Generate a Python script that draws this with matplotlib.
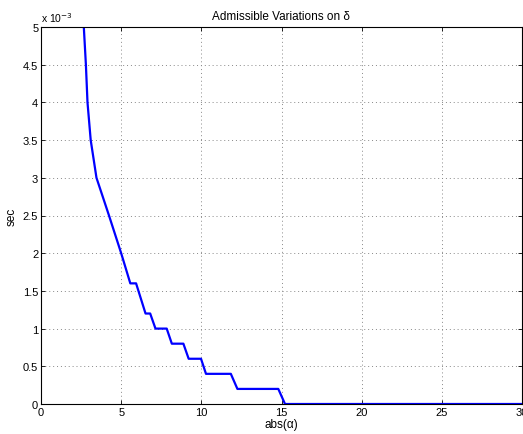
import matplotlib
matplotlib.use("Agg")
import matplotlib.pyplot as plt
from matplotlib.ticker import MultipleLocator

# abs(alpha) values and admissible time variations (units of 1e-3 s)
alpha = [2.67, 2.80, 2.90, 3.10, 3.46, 4.24, 5.00, 5.57, 5.93, 6.52, 6.81, 7.14, 7.84,
         8.16, 8.88, 9.21, 9.98, 10.29, 11.84, 12.25, 14.80, 15.22, 30.0]
sec_ms = [5.0, 4.5, 4.0, 3.5, 3.0, 2.5, 2.0, 1.6, 1.6, 1.2, 1.2, 1.0, 1.0,
          0.8, 0.8, 0.6, 0.6, 0.4, 0.4, 0.2, 0.2, 0.0, 0.0]
xticks = [0, 5, 10, 15, 20, 25, 30]
yticks = [0, 0.5, 1, 1.5, 2, 2.5, 3, 3.5, 4, 4.5, 5]

plt.rcParams['font.family'] = ['Liberation Sans', 'DejaVu Sans']
fig = plt.figure(figsize=(5.23, 4.35), dpi=100)
ax = fig.add_axes([41/523, 30/435, 481/523, 377/435])
ax.plot(alpha, sec_ms, color='#0000ff', lw=1.6, clip_on=True)
ax.set_xlim(0, 30)
ax.set_ylim(0, 5)
ax.set_xticks(xticks)
ax.set_yticks(yticks)
ax.set_xticklabels([str(t) for t in xticks])
ax.set_yticklabels([('%g' % t) for t in yticks])
ax.tick_params(direction='in', length=3, labelsize=8, pad=2, top=True, right=True, width=0.6)
ax.grid(True, linestyle=(0, (1, 3)), color='#888888', lw=0.7)
for s in ax.spines.values():
    s.set_linewidth(0.8)
ax.set_xlabel('abs(α)', fontsize=8.5, labelpad=1)
ax.set_ylabel('sec', fontsize=8.5, labelpad=4)
ax.set_title('Admissible Variations on δ', fontsize=8.5, pad=6)
ax.text(0, 1.008, 'x 10$^{-3}$', transform=ax.transAxes, fontsize=7.5, ha='left', va='bottom')
fig.savefig('out.png', dpi=100)
